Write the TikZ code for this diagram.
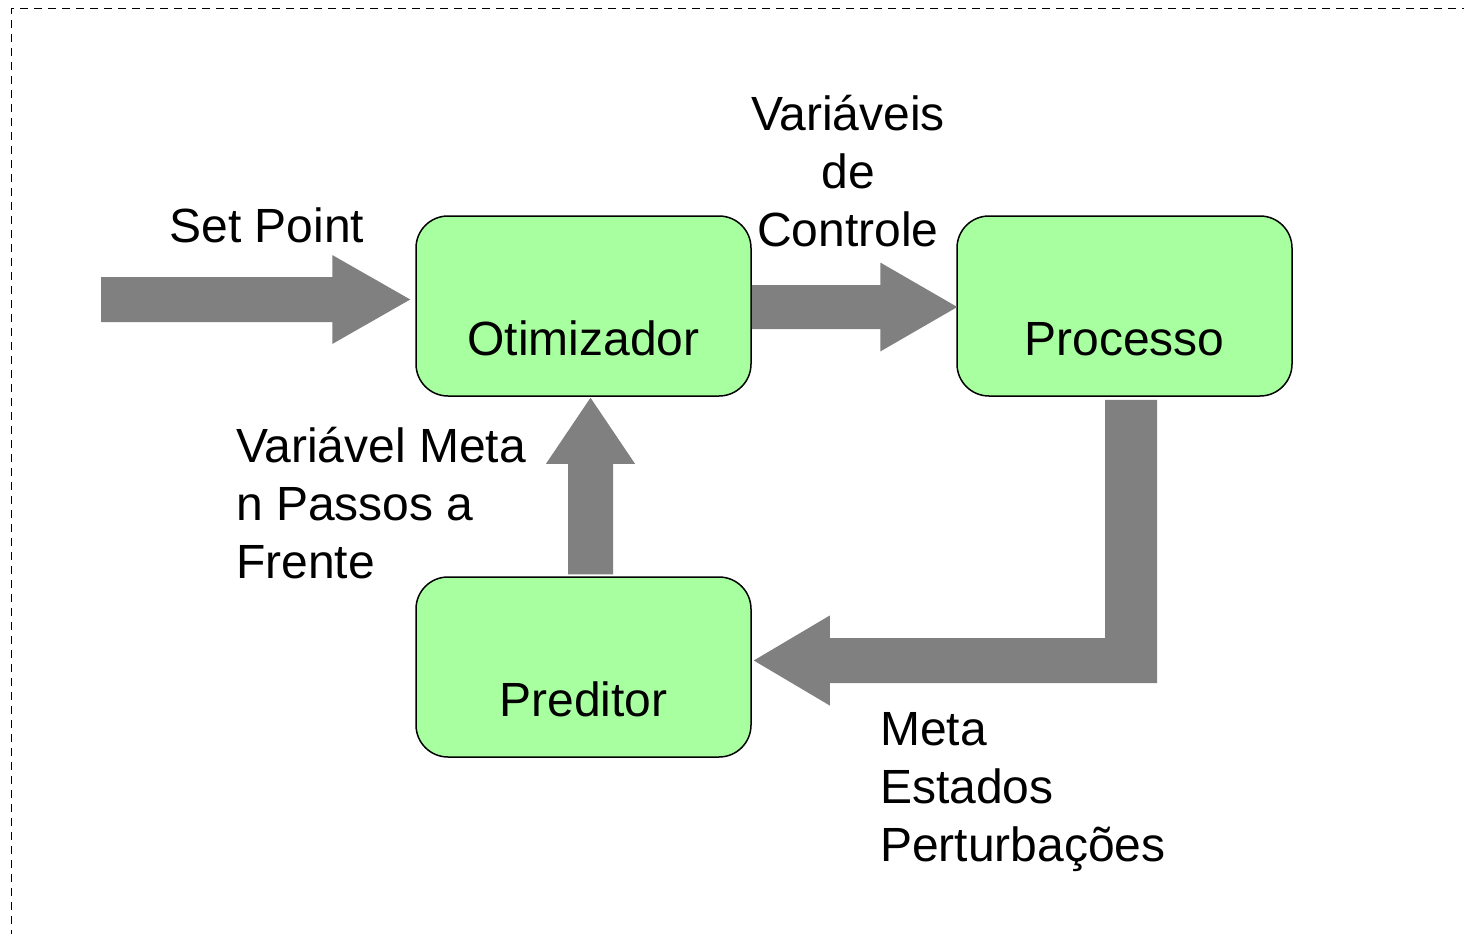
\documentclass[tikz,border=0pt]{standalone}
\usepackage{fontspec}
\setmainfont{Liberation Sans}
\usetikzlibrary{calc}
\definecolor{boxgreen}{RGB}{168,255,160}
\definecolor{arrowgray}{RGB}{128,128,128}
\tikzset{
  blockbox/.style={draw=black, line width=1.5pt, fill=boxgreen, rounded corners=32pt,
    minimum width=335pt, minimum height=180pt, inner sep=0pt},
  lbl/.style={font=\fontsize{48}{58}\selectfont, inner sep=0pt},
  fatarrow/.style={fill=arrowgray, draw=none},
  frameline/.style={draw=black, line width=1pt, dash pattern=on 8pt off 6pt}
}
\begin{document}
\begin{tikzpicture}[x=1pt,y=-1pt]
\useasboundingbox (0,0) rectangle (1464,934);
\draw[frameline] (1470,9) -- (11,9) -- (11,940);

% boxes
\node[blockbox] (otim) at (583.5,306) {};
\node[blockbox] (proc) at (1124.5,306) {};
\node[blockbox] (pred) at (583.5,667) {};
\node[lbl, anchor=base] (otimtxt) at (583.5,355) {Otimizador};
\node[lbl, anchor=base] (proctxt) at (1124.5,355) {Processo};
\node[lbl, anchor=base] (predtxt) at (583.5,716) {Preditor};

% Set Point arrow
\coordinate (spstart) at (101,299.5);
\coordinate (sptip) at ($(otim.west)+(-5,-6.5)$);
\fill[fatarrow] ($(spstart)+(0,-22.5)$) -- ($(sptip)+(-78,-22.5)$) -- ($(sptip)+(-78,-44.5)$) -- (sptip)
  -- ($(sptip)+(-78,44.5)$) -- ($(sptip)+(-78,22.5)$) -- ($(spstart)+(0,22.5)$) -- cycle;

% control arrow
\coordinate (ctstart) at ($(otim.east)+(0,1)$);
\coordinate (cttip) at ($(proc.west)+(1,1)$);
\fill[fatarrow] ($(ctstart)+(0,-22)$) -- ($(cttip)+(-77,-22)$) -- ($(cttip)+(-77,-44.5)$) -- (cttip)
  -- ($(cttip)+(-77,44.5)$) -- ($(cttip)+(-77,22)$) -- ($(ctstart)+(0,22)$) -- cycle;

% up arrow (Preditor -> Otimizador)
\coordinate (upstart) at ($(pred.north)+(7,-2)$);
\coordinate (uptip) at ($(otim.south)+(7,1)$);
\fill[fatarrow] ($(upstart)+(-22.5,0)$) -- ($(uptip)+(-22.5,66)$) -- ($(uptip)+(-44.5,66)$) -- (uptip)
  -- ($(uptip)+(44.5,66)$) -- ($(uptip)+(22.5,66)$) -- ($(upstart)+(22.5,0)$) -- cycle;

% feedback L arrow (Processo -> Preditor)
\coordinate (fbtop) at ($(proc.south)+(6.5,3)$);
\coordinate (fbtip) at ($(pred.east)+(2,-6.5)$);
\fill[fatarrow] ($(fbtop)+(-26,0)$) -- ($(fbtop)+(26,0)$) -- ($(fbtop |- fbtip)+(26,22.5)$)
  -- ($(fbtip)+(76,22.5)$) -- ($(fbtip)+(76,45)$) -- (fbtip) -- ($(fbtip)+(76,-45)$)
  -- ($(fbtip)+(76,-22.5)$) -- ($(fbtop |- fbtip)+(-26,-22.5)$) -- cycle;

% labels (anchor=base refers to the last line)
\node[lbl, anchor=base] (setpoint) at (267,242) {Set Point};
\node[lbl, anchor=base, align=center] (varctl) at (848,246) {Variáveis\\de\\Controle};
\node[lbl, anchor=base west, align=left] (varmeta) at (236,578) {Variável Meta\\n Passos a\\Frente};
\node[lbl, anchor=base west, align=left] (meta) at (880,861) {Meta\\Estados\\Perturbações};
\end{tikzpicture}
\end{document}
